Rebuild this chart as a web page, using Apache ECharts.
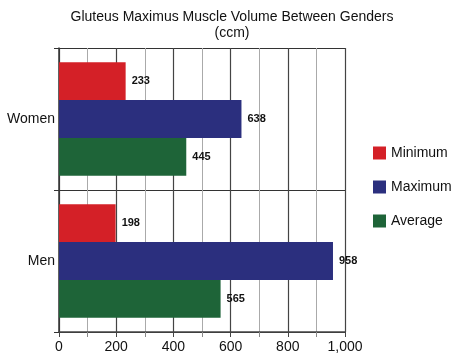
<!DOCTYPE html>
<html><head><meta charset="utf-8">
<script src="https://cdn.jsdelivr.net/npm/echarts@6/dist/echarts.min.js"></script>
<style>html,body{margin:0;padding:0;background:#fff}#c{width:460px;height:361px}</style>
</head><body><div id="c"></div>
<script>
var categories = ['Women', 'Men'];
var seriesNames = ['Minimum', 'Maximum', 'Average'];
var minimumValues = [233, 198];
var maximumValues = [638, 958];
var averageValues = [445, 565];
var colors = ['#d42027', '#2b2f7e', '#1e6438'];

var chart = echarts.init(document.getElementById('c'));
var font = 'Liberation Sans, Arial, sans-serif';
function mk(name, data, color) {
  return {
    name: name, type: 'bar', data: data, barGap: '0%', barCategoryGap: '20%',
    itemStyle: { color: color },
    label: { show: true, position: 'right', distance: 6, color: '#111', fontWeight: 'bold', fontSize: 11, fontFamily: font }
  };
}
chart.setOption({
  animation: false,
  title: {
    text: 'Gluteus Maximus Muscle Volume Between Genders\n(ccm)',
    left: 227, top: 4, textAlign: 'center',
    textStyle: { fontFamily: font, fontSize: 14, fontWeight: 'normal', color: '#111', lineHeight: 16 }
  },
  legend: {
    orient: 'vertical', left: 368, top: 141, itemGap: 20, itemWidth: 13, itemHeight: 13,
    icon: 'rect', textStyle: { fontFamily: font, fontSize: 14, color: '#111' },
    data: seriesNames
  },
  grid: { left: 59, right: 115, top: 48, bottom: 29 },
  xAxis: {
    type: 'value', min: 0, max: 1000, interval: 200,
    axisLine: { show: true, lineStyle: { color: '#444', width: 1.5 } },
    axisTick: { show: true, length: 5, lineStyle: { color: '#444' } },
    minorTick: { show: true, splitNumber: 2, length: 5, lineStyle: { color: '#888' } },
    splitLine: { show: true, lineStyle: { color: '#444', width: 1.2 } },
    minorSplitLine: { show: true, lineStyle: { color: '#aaa', width: 1 } },
    axisLabel: { fontFamily: font, fontSize: 14, color: '#111', margin: 8,
      formatter: function (v) { return v.toLocaleString('en-US'); } }
  },
  yAxis: {
    type: 'category', data: categories, inverse: true,
    axisLine: { show: true, lineStyle: { color: '#333', width: 1.5 } },
    axisTick: { show: true, length: 5, lineStyle: { color: '#333' } },
    splitLine: { show: true, lineStyle: { color: '#333', width: 1.2 } },
    axisLabel: { fontFamily: font, fontSize: 14, color: '#111', margin: 4 }
  },
  series: [
    mk(seriesNames[0], minimumValues, colors[0]),
    mk(seriesNames[1], maximumValues, colors[1]),
    mk(seriesNames[2], averageValues, colors[2])
  ]
});
</script></body></html>
